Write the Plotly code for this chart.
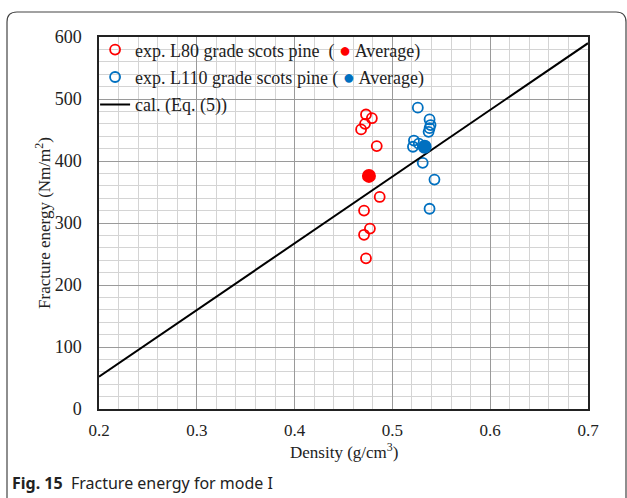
import plotly.graph_objects as go

red_x = [0.473, 0.479, 0.472, 0.468, 0.484, 0.487, 0.471, 0.477, 0.471, 0.473]
red_y = [475, 469, 460, 451, 424, 342, 320, 291, 281, 243]
red_avg_x = [0.476]
red_avg_y = [376]

blue_x = [0.526, 0.538, 0.539, 0.538, 0.537, 0.522, 0.521, 0.527, 0.531, 0.543, 0.538]
blue_y = [486, 467, 458, 453, 447, 433, 423, 428, 397, 370, 323]
blue_avg_x = [0.533]
blue_avg_y = [423]

calc_x = [0.2, 0.7]
calc_y = [52, 590]

RED = "#FF0000"
BLUE = "#0070C0"
serif = "Liberation Serif"

dot = "<span style='color:{c};font-size:20px'>●</span>"

fig = go.Figure()
fig.add_trace(go.Scatter(
    x=red_x, y=red_y, mode="markers", legendgroup="a",
    name="exp. L80 grade scots pine  ( " + dot.format(c=RED) + " Average)",
    marker=dict(symbol="circle-open", size=10, color=RED, line=dict(width=1.8, color=RED))))
fig.add_trace(go.Scatter(
    x=blue_x, y=blue_y, mode="markers", legendgroup="b",
    name="exp. L110 grade scots pine ( " + dot.format(c=BLUE) + " Average)",
    marker=dict(symbol="circle-open", size=10, color=BLUE, line=dict(width=1.8, color=BLUE))))
fig.add_trace(go.Scatter(
    x=calc_x, y=calc_y, mode="lines", legendgroup="c", name="cal. (Eq. (5))",
    line=dict(color="black", width=2)))
fig.add_trace(go.Scatter(
    x=red_avg_x, y=red_avg_y, mode="markers", showlegend=False,
    marker=dict(symbol="circle", size=14, color=RED)))
fig.add_trace(go.Scatter(
    x=blue_avg_x, y=blue_avg_y, mode="markers", showlegend=False,
    marker=dict(symbol="circle", size=14, color=BLUE)))

W, H = 627, 498
L, R, T, B = 99, 39, 37, 89
pw, ph = W - L - R, H - T - B

def u(px):
    return (px - L) / pw

def v(py):
    return (H - B - py) / ph

x0, x1, y0, y1 = u(7), u(626), v(12), v(505)
rx, ry = 10 / pw, 10 / ph
path = (f"M {x0},{y1} L {x0},{y0 - ry} Q {x0},{y0} {x0 + rx},{y0} "
        f"L {x1 - rx},{y0} Q {x1},{y0} {x1},{y0 - ry} L {x1},{y1}")

fig.update_layout(
    width=W, height=H,
    margin=dict(l=L, r=R, t=T, b=B),
    paper_bgcolor="white", plot_bgcolor="white",
    font=dict(family=serif, size=17, color="#222"),
    showlegend=True,
    legend=dict(x=-0.008, y=1.015, xanchor="left", yanchor="top",
                bgcolor="rgba(0,0,0,0)", font=dict(family=serif, size=18, color="#222"),
                tracegroupgap=1, itemwidth=30),
    shapes=[dict(type="path", path=path, xref="paper", yref="paper",
                 line=dict(color="#444", width=1.2))],
    annotations=[
        dict(text="<b>Fig. 15</b>  Fracture energy for mode I",
             xref="paper", yref="paper", x=u(10), y=v(483),
             xanchor="left", yanchor="middle", showarrow=False,
             font=dict(family="Noto Sans", size=16, color="#222")),
        dict(text="Density (g/cm<sup>3</sup>)",
             xref="paper", yref="paper", x=0.5, y=v(451),
             xanchor="center", yanchor="middle", showarrow=False,
             font=dict(family=serif, size=17, color="#222")),
    ],
)
fig.update_xaxes(
    range=[0.2, 0.7], dtick=0.1, tick0=0.2, tickformat=".1f",
    tickfont=dict(family=serif, size=17),
    showgrid=True, gridcolor="#9a9a9a", gridwidth=1,
    minor=dict(dtick=0.02, showgrid=True, gridcolor="#d4d4d4", gridwidth=1),
    showline=True, linecolor="#222", linewidth=1.5, mirror=True,
    ticks="outside", ticklen=5, tickcolor="rgba(0,0,0,0)", zeroline=False)
fig.update_yaxes(
    range=[0, 600], dtick=100,
    tickfont=dict(family=serif, size=18),
    showgrid=True, gridcolor="#9a9a9a", gridwidth=1,
    minor=dict(dtick=20, showgrid=True, gridcolor="#d4d4d4", gridwidth=1),
    showline=True, linecolor="#222", linewidth=1.5, mirror=True,
    ticks="outside", ticklen=12, tickcolor="rgba(0,0,0,0)", zeroline=False,
    title=dict(text="Fracture energy (Nm/m<sup>2</sup>)", standoff=0, font=dict(family=serif, size=17)))

fig.write_html("out.html")
